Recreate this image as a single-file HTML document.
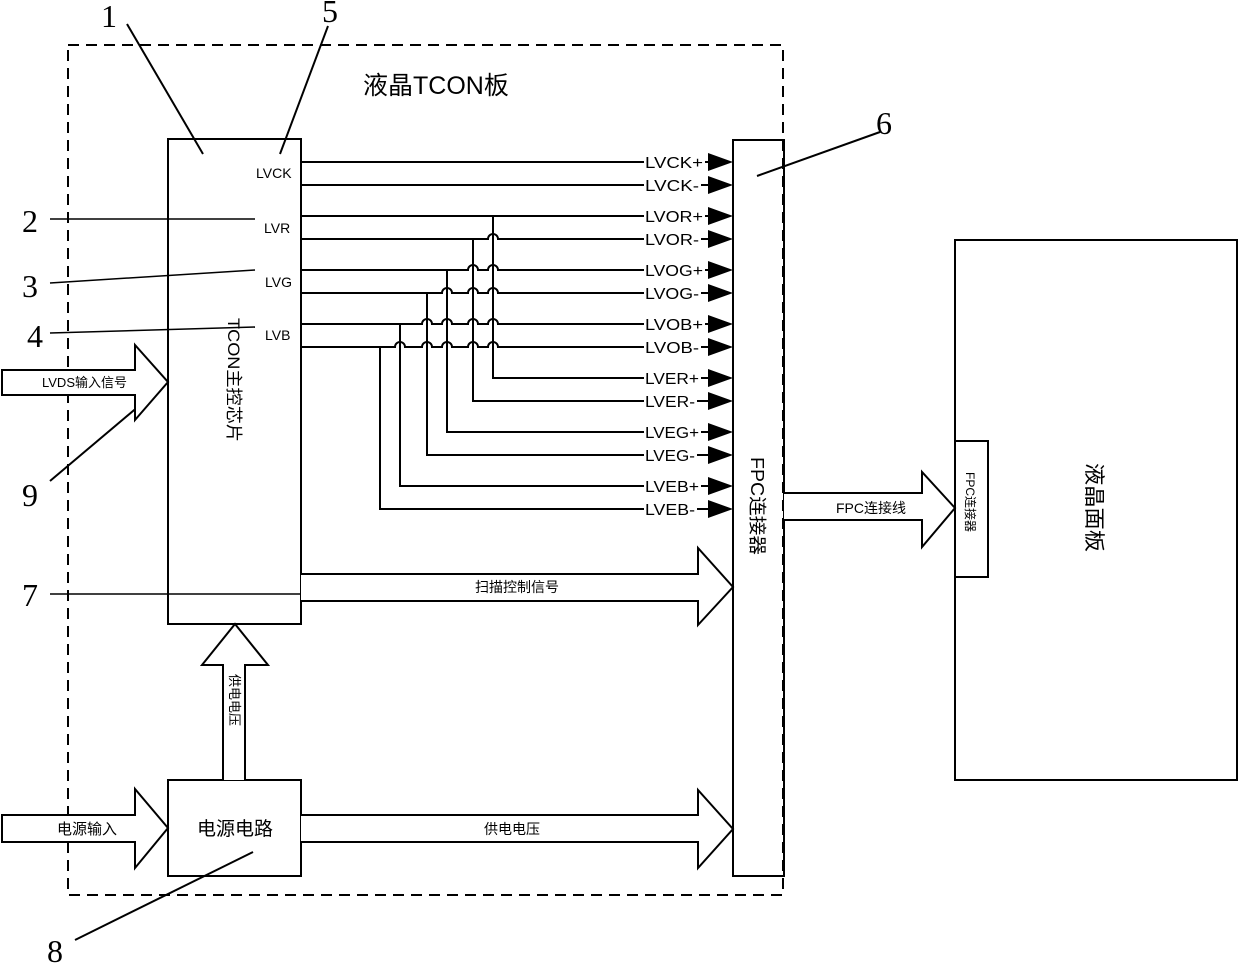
<!DOCTYPE html>
<html><head><meta charset="utf-8"><style>
html,body{margin:0;padding:0;background:#fff;}
svg{display:block;}
text{font-family:"Liberation Sans","Noto Sans CJK SC",sans-serif;fill:#000;}
text.num{font-family:"Liberation Serif","Noto Serif CJK SC",serif;font-size:32px;}
.sig{font-size:16px;}
</style></head><body>
<svg width="1240" height="968" viewBox="0 0 1240 968" xmlns="http://www.w3.org/2000/svg">
<g fill="none" stroke="#000">
<rect x="68" y="45" width="715" height="850" stroke-width="2" stroke-dasharray="11,7"/>
<rect x="168" y="139" width="133" height="485" stroke-width="2"/>
<rect x="733" y="140" width="51" height="736" stroke-width="2"/>
<rect x="955" y="240" width="282" height="540" stroke-width="2"/>
<rect x="955" y="441" width="33" height="136" stroke-width="2" fill="#fff"/>
<rect x="168" y="780" width="133" height="96" stroke-width="2"/>

<g stroke-width="2">
<path d="M301 162H712"/>
<path d="M301 185H712"/>
<path d="M301 216H712"/>
<path d="M301 239H488A5 5 0 0 1 498 239H712"/>
<path d="M301 270H468A5 5 0 0 1 478 270H488A5 5 0 0 1 498 270H712"/>
<path d="M301 293H442A5 5 0 0 1 452 293H468A5 5 0 0 1 478 293H488A5 5 0 0 1 498 293H712"/>
<path d="M301 324H422A5 5 0 0 1 432 324H442A5 5 0 0 1 452 324H468A5 5 0 0 1 478 324H488A5 5 0 0 1 498 324H712"/>
<path d="M301 347H395A5 5 0 0 1 405 347H422A5 5 0 0 1 432 347H442A5 5 0 0 1 452 347H468A5 5 0 0 1 478 347H488A5 5 0 0 1 498 347H712"/>
<path d="M493 216V378H712"/>
<path d="M473 239V401H712"/>
<path d="M447 270V432H712"/>
<path d="M427 293V455H712"/>
<path d="M400 324V486H712"/>
<path d="M380 347V509H712"/>
</g>

<g stroke-width="2">
<path d="M127 24L203 154"/>
<path d="M328 26L280 154"/>
<path d="M880 132L757 176"/>
<path d="M50 481L165 384"/>
<path d="M75 940L253 852"/>
</g>
<g stroke-width="1.5">
<path d="M50 219H255"/>
<path d="M50 283L255 270"/>
<path d="M50 333L255 327"/>
<path d="M50 594H305"/>
</g>

<g stroke-width="2" fill="#fff">
<path d="M2 370H135V345L168 382L135 420V395H2Z"/>
<path d="M2 815H135V789L168 828L135 868V842H2Z"/>
<path d="M301 574H698V548L733 587L698 625V601H301"/>
<path d="M301 815H698V790L733 829L698 868V842H301"/>
<path d="M784 493H922V472L955 508L922 547V520H784"/>
<path d="M223 780V665H202L235 624L268 665H245V780"/>
</g>
</g>

<g fill="#000">
<path d="M708 153L733 162L708 171Z"/>
<path d="M708 176L733 185L708 194Z"/>
<path d="M708 207L733 216L708 225Z"/>
<path d="M708 230L733 239L708 248Z"/>
<path d="M708 261L733 270L708 279Z"/>
<path d="M708 284L733 293L708 302Z"/>
<path d="M708 315L733 324L708 333Z"/>
<path d="M708 338L733 347L708 356Z"/>
<path d="M708 369L733 378L708 387Z"/>
<path d="M708 392L733 401L708 410Z"/>
<path d="M708 423L733 432L708 441Z"/>
<path d="M708 446L733 455L708 464Z"/>
<path d="M708 477L733 486L708 495Z"/>
<path d="M708 500L733 509L708 518Z"/>
</g>

<g fill="#fff">
<rect x="644" y="153" width="61" height="18"/>
<rect x="644" y="176" width="57" height="18"/>
<rect x="644" y="207" width="61" height="18"/>
<rect x="644" y="230" width="57" height="18"/>
<rect x="644" y="261" width="61" height="18"/>
<rect x="644" y="284" width="57" height="18"/>
<rect x="644" y="315" width="61" height="18"/>
<rect x="644" y="338" width="57" height="18"/>
<rect x="644" y="369" width="57" height="18"/>
<rect x="644" y="392" width="53" height="18"/>
<rect x="644" y="423" width="57" height="18"/>
<rect x="644" y="446" width="53" height="18"/>
<rect x="644" y="477" width="57" height="18"/>
<rect x="644" y="500" width="53" height="18"/>
</g>
<g class="sig">
<text x="645" y="168" textLength="58" lengthAdjust="spacingAndGlyphs">LVCK+</text>
<text x="645" y="191" textLength="54" lengthAdjust="spacingAndGlyphs">LVCK-</text>
<text x="645" y="222" textLength="58" lengthAdjust="spacingAndGlyphs">LVOR+</text>
<text x="645" y="245" textLength="54" lengthAdjust="spacingAndGlyphs">LVOR-</text>
<text x="645" y="276" textLength="58" lengthAdjust="spacingAndGlyphs">LVOG+</text>
<text x="645" y="299" textLength="54" lengthAdjust="spacingAndGlyphs">LVOG-</text>
<text x="645" y="330" textLength="58" lengthAdjust="spacingAndGlyphs">LVOB+</text>
<text x="645" y="353" textLength="54" lengthAdjust="spacingAndGlyphs">LVOB-</text>
<text x="645" y="384" textLength="54" lengthAdjust="spacingAndGlyphs">LVER+</text>
<text x="645" y="407" textLength="50" lengthAdjust="spacingAndGlyphs">LVER-</text>
<text x="645" y="438" textLength="54" lengthAdjust="spacingAndGlyphs">LVEG+</text>
<text x="645" y="461" textLength="50" lengthAdjust="spacingAndGlyphs">LVEG-</text>
<text x="645" y="492" textLength="54" lengthAdjust="spacingAndGlyphs">LVEB+</text>
<text x="645" y="515" textLength="50" lengthAdjust="spacingAndGlyphs">LVEB-</text>
</g>

<g font-size="14">
<text x="256" y="178">LVCK</text>
<text x="264" y="233">LVR</text>
<text x="265" y="287">LVG</text>
<text x="265" y="340">LVB</text>
</g>

<text class="num" x="101" y="27">1</text>
<text class="num" x="322" y="22">5</text>
<text class="num" x="876" y="134">6</text>
<text class="num" x="22" y="232">2</text>
<text class="num" x="22" y="297">3</text>
<text class="num" x="27" y="347">4</text>
<text class="num" x="22" y="506">9</text>
<text class="num" x="22" y="606">7</text>
<text class="num" x="47" y="962">8</text>

<text x="363" y="94" font-size="25">液晶TCON板</text>
<text x="42" y="387" font-size="13">LVDS输入信号</text>
<text x="57" y="834" font-size="15">电源输入</text>
<text x="197" y="835" font-size="19">电源电路</text>
<text x="475" y="592" font-size="14">扫描控制信号</text>
<text x="484" y="834" font-size="14">供电电压</text>
<text x="836" y="513" font-size="14">FPC连接线</text>
<text transform="translate(228,318) rotate(90)" font-size="17" textLength="124" lengthAdjust="spacingAndGlyphs">TCON主控芯片</text>
<text transform="translate(230,674) rotate(90)" font-size="13">供电电压</text>
<text transform="translate(751,457) rotate(90)" font-size="18" textLength="98" lengthAdjust="spacingAndGlyphs">FPC连接器</text>
<text transform="translate(966,472) rotate(90)" font-size="12">FPC连接器</text>
<text transform="translate(1087,463) rotate(90)" font-size="21" textLength="89" lengthAdjust="spacingAndGlyphs">液晶面板</text>
</svg>
</body></html>
